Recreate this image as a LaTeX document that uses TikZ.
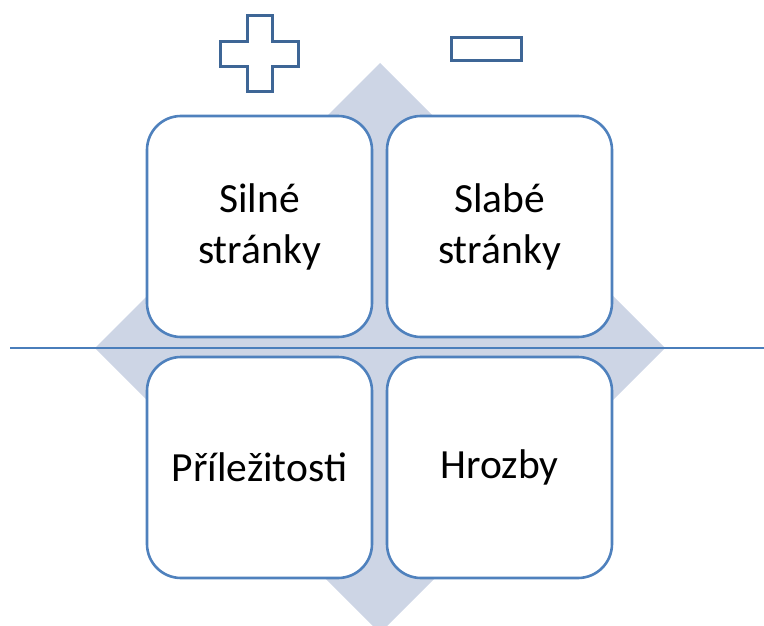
\documentclass[tikz,border=0pt]{standalone}
\usepackage{fontspec}
\setmainfont{Carlito}
\usepackage{tikz}

\definecolor{swotblue}{HTML}{4F81BD}
\definecolor{swotdark}{HTML}{3E6696}
\definecolor{swotfill}{HTML}{CDD5E5}
\definecolor{swotline}{HTML}{4A7EBB}

\tikzset{
  quadrant/.style={draw=swotblue, line width=2.6pt, fill=white, rounded corners=34pt,
    minimum width=225pt, minimum height=221pt, align=center, inner sep=0pt,
    font=\fontsize{41.5}{51}\selectfont},
  signshape/.style={draw=swotdark, line width=3pt, fill=white, line join=miter}
}

\begin{document}
\begin{tikzpicture}[x=1pt,y=-1pt,line cap=round,line join=round]
    \useasboundingbox (0,0) rectangle (764,626);
    \clip (0,0) rectangle (764,626);

    \coordinate (C) at (380, 348);
    \coordinate (L) at (10, 348);
    \coordinate (R) at (764, 348);

    % diamond behind the boxes
    \fill[swotfill] (C) ++(0,-285) -- ++(285,285) -- ++(-285,285) -- ++(-285,-285) -- cycle;
    \draw[swotline, line width=1.4pt, line cap=butt] (L) -- (R);

    \node[quadrant] (silne) at (259.5, 226.5) {Silné\\stránky};
    \node[quadrant] (slabe) at (499.5, 226.5) {Slabé\\stránky};
    \node[quadrant] (prilezitosti) at (259.5, 467.5) {Příležitosti};
    \node[quadrant] (hrozby) at (499.5, 467.5) {Hrozby};

    % plus and minus
    \draw[signshape] (247,16) -- (272,16) -- (272,42) -- (298,42) -- (298,67) -- (272,67)
        -- (272,92) -- (247,92) -- (247,67) -- (220,67) -- (220,42) -- (247,42) -- cycle;
    \draw[signshape] (451,38) rectangle (521,61);
\end{tikzpicture}
\end{document}
